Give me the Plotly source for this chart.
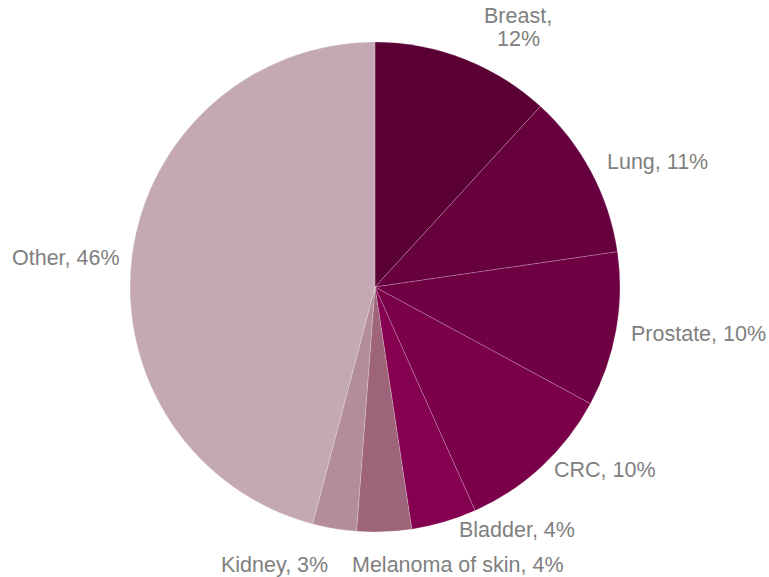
import plotly.graph_objects as go

categories = ["Breast", "Lung", "Prostate", "CRC", "Bladder", "Melanoma of skin", "Kidney", "Other"]
values = [11.8, 10.9, 10.2, 10.4, 4.3, 3.6, 2.9, 45.9]
colors = ["#5a0032", "#67003e", "#700044", "#7a004a", "#860052", "#9e6479", "#b48d9b", "#c4a9b4"]

# label placement (pixel centres in the 769x577 canvas), layout only
label_pos = [(518, 28), (657, 162), (698, 334), (605, 470), (517, 530), (458, 565), (274, 565), (66, 258)]
W, H = 769, 577
LINE_H = 23

total = sum(values)
fig = go.Figure(go.Pie(
    labels=categories,
    values=values,
    sort=False,
    direction="clockwise",
    rotation=0,
    marker=dict(colors=colors, line=dict(color="rgba(255,255,255,0.4)", width=0.5)),
    textinfo="none",
    hoverinfo="label+percent",
    showlegend=False,
    domain=dict(x=[(375 - 245) / W, (375 + 245) / W], y=[1 - 532 / H, 1 - 42 / H]),
))

for cat, v, (px, py) in zip(categories, values, label_pos):
    pct = round(100 * v / total)
    lines = [f"{cat},", f"{pct}%"] if cat == "Breast" else [f"{cat}, {pct}%"]
    n = len(lines)
    for i, line in enumerate(lines):
        ly = py + (i - (n - 1) / 2) * LINE_H
        fig.add_annotation(
            x=px / W, y=1 - ly / H, xref="paper", yref="paper",
            text=line, showarrow=False,
            xanchor="center", yanchor="middle",
            font=dict(family="Liberation Sans, Arial, sans-serif", size=21.5, color="#808080"),
        )

fig.update_layout(
    width=W, height=H,
    margin=dict(l=0, r=0, t=0, b=0),
    paper_bgcolor="white", plot_bgcolor="white",
)
fig.write_html("out.html", config={"displayModeBar": False},
               post_script="document.body.style.margin='0';document.body.style.overflow='hidden';")
